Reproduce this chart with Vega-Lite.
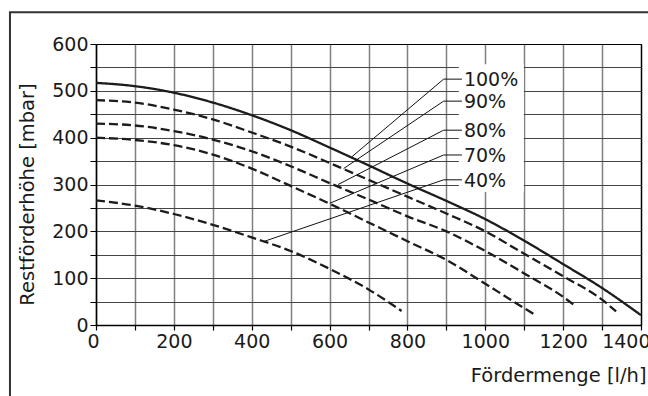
{
  "$schema": "https://vega.github.io/schema/vega-lite/v6.json",
  "width": 545,
  "height": 281,
  "autosize": {"type": "none"},
  "padding": {"left": 96, "top": 44, "right": 7, "bottom": 71},
  "background": "white",
  "config": {"view": {"stroke": "#000", "strokeWidth": 1}, "font": "DejaVu Sans"},
  "datasets": {
    "curves": [
      {"s": "100%", "q": 0, "p": 517}, {"s": "100%", "q": 100, "p": 510}, {"s": "100%", "q": 200, "p": 496}, {"s": "100%", "q": 300, "p": 475}, {"s": "100%", "q": 400, "p": 448}, {"s": "100%", "q": 500, "p": 416}, {"s": "100%", "q": 600, "p": 379}, {"s": "100%", "q": 700, "p": 341}, {"s": "100%", "q": 800, "p": 302}, {"s": "100%", "q": 900, "p": 265}, {"s": "100%", "q": 1000, "p": 226}, {"s": "100%", "q": 1100, "p": 180}, {"s": "100%", "q": 1200, "p": 130}, {"s": "100%", "q": 1300, "p": 79}, {"s": "100%", "q": 1400, "p": 21},
      {"s": "90%", "q": 0, "p": 480}, {"s": "90%", "q": 100, "p": 475}, {"s": "90%", "q": 200, "p": 460}, {"s": "90%", "q": 300, "p": 439}, {"s": "90%", "q": 400, "p": 411}, {"s": "90%", "q": 500, "p": 381}, {"s": "90%", "q": 600, "p": 346}, {"s": "90%", "q": 700, "p": 310}, {"s": "90%", "q": 800, "p": 274}, {"s": "90%", "q": 900, "p": 238}, {"s": "90%", "q": 1000, "p": 200}, {"s": "90%", "q": 1100, "p": 152}, {"s": "90%", "q": 1200, "p": 104}, {"s": "90%", "q": 1300, "p": 54}, {"s": "90%", "q": 1336, "p": 29},
      {"s": "80%", "q": 0, "p": 430}, {"s": "80%", "q": 100, "p": 426}, {"s": "80%", "q": 200, "p": 414}, {"s": "80%", "q": 300, "p": 396}, {"s": "80%", "q": 400, "p": 371}, {"s": "80%", "q": 500, "p": 339}, {"s": "80%", "q": 600, "p": 303}, {"s": "80%", "q": 700, "p": 268}, {"s": "80%", "q": 800, "p": 232}, {"s": "80%", "q": 900, "p": 200}, {"s": "80%", "q": 1000, "p": 158}, {"s": "80%", "q": 1100, "p": 110}, {"s": "80%", "q": 1200, "p": 60}, {"s": "80%", "q": 1232, "p": 40},
      {"s": "70%", "q": 0, "p": 400}, {"s": "70%", "q": 100, "p": 395}, {"s": "70%", "q": 200, "p": 384}, {"s": "70%", "q": 300, "p": 364}, {"s": "70%", "q": 400, "p": 334}, {"s": "70%", "q": 500, "p": 297}, {"s": "70%", "q": 600, "p": 259}, {"s": "70%", "q": 700, "p": 219}, {"s": "70%", "q": 800, "p": 179}, {"s": "70%", "q": 900, "p": 139}, {"s": "70%", "q": 1000, "p": 88}, {"s": "70%", "q": 1100, "p": 36}, {"s": "70%", "q": 1132, "p": 20},
      {"s": "40%", "q": 0, "p": 266}, {"s": "40%", "q": 100, "p": 255}, {"s": "40%", "q": 200, "p": 237}, {"s": "40%", "q": 300, "p": 214}, {"s": "40%", "q": 400, "p": 187}, {"s": "40%", "q": 500, "p": 158}, {"s": "40%", "q": 600, "p": 120}, {"s": "40%", "q": 700, "p": 76}, {"s": "40%", "q": 785, "p": 30}
    ],
    "leaders": [
      {"s": "100%", "o": 1, "q": 657, "p": 359}, {"s": "100%", "o": 2, "q": 893, "p": 525}, {"s": "100%", "o": 3, "q": 940, "p": 525},
      {"s": "90%", "o": 1, "q": 636, "p": 334}, {"s": "90%", "o": 2, "q": 893, "p": 478}, {"s": "90%", "o": 3, "q": 940, "p": 478},
      {"s": "80%", "o": 1, "q": 622, "p": 300}, {"s": "80%", "o": 2, "q": 893, "p": 416}, {"s": "80%", "o": 3, "q": 940, "p": 416},
      {"s": "70%", "o": 1, "q": 601, "p": 260}, {"s": "70%", "o": 2, "q": 893, "p": 363}, {"s": "70%", "o": 3, "q": 940, "p": 363},
      {"s": "40%", "o": 1, "q": 430, "p": 178}, {"s": "40%", "o": 2, "q": 893, "p": 310}, {"s": "40%", "o": 3, "q": 940, "p": 310}
    ],
    "labels": [
      {"s": "100%", "q": 945, "p": 525},
      {"s": "90%", "q": 945, "p": 478},
      {"s": "80%", "q": 945, "p": 416},
      {"s": "70%", "q": 945, "p": 363},
      {"s": "40%", "q": 945, "p": 310}
    ]
  },
  "layer": [
    {
      "data": {"values": [{}]},
      "mark": {"type": "rect", "fill": null, "stroke": "#333", "strokeWidth": 2, "clip": false},
      "encoding": {
        "x": {"datum": -221, "type": "quantitative", "scale": {"domain": [0, 1400], "nice": false}},
        "x2": {"datum": 2000},
        "y": {"datum": 668, "type": "quantitative", "scale": {"domain": [0, 600], "nice": false}},
        "y2": {"datum": -400}
      }
    },
    {
      "data": {"values": [{}]},
      "mark": {"type": "rect", "fill": "white", "stroke": null},
      "encoding": {
        "x": {"datum": 932, "type": "quantitative"},
        "x2": {"datum": 1099},
        "y": {"datum": 284, "type": "quantitative"},
        "y2": {"datum": 557}
      }
    },
    {
      "data": {"name": "curves"},
      "mark": {"type": "line", "interpolate": "monotone", "strokeWidth": 2.3, "color": "#1c1c1c"},
      "encoding": {
        "x": {
          "field": "q", "type": "quantitative",
          "scale": {"domain": [0, 1400], "nice": false},
          "axis": {
            "values": [0, 100, 200, 300, 400, 500, 600, 700, 800, 900, 1000, 1100, 1200, 1300, 1400],
            "tickCount": 30,
            "labelExpr": "datum.value % 200 === 0 ? datum.label : ''",
            "format": "d",
            "grid": true,
            "gridColor": {"condition": {"test": "datum.value === 1400", "value": "#000"}, "value": "#808080"},
            "gridWidth": 1.5,
            "domainColor": "#000", "domainWidth": 1.5,
            "tickColor": "#000", "tickSize": 5, "tickWidth": 1.2,
            "labelFontSize": 19, "labelColor": "#1a1a1a", "labelPadding": 2, "labelFlush": true, "labelFlushOffset": 9, "labelOverlap": false,
            "title": "Fördermenge [l/h]", "titleFontSize": 19.5, "titleFontWeight": "normal", "titleColor": "#1a1a1a",
            "titleX": 550, "titleY": 56, "titleAlign": "right", "titleBaseline": "alphabetic"
          }
        },
        "y": {
          "field": "p", "type": "quantitative",
          "scale": {"domain": [0, 600], "nice": false},
          "axis": {
            "values": [0, 50, 100, 150, 200, 250, 300, 350, 400, 450, 500, 550, 600],
            "tickCount": 30,
            "labelExpr": "datum.value % 100 === 0 ? datum.label : ''",
            "format": "d",
            "grid": true,
            "gridColor": {"condition": {"test": "datum.value === 600", "value": "#000"}, "value": "#444"},
            "gridWidth": 1,
            "domainColor": "#000", "domainWidth": 1.5,
            "tickColor": "#000", "tickSize": 6, "tickWidth": 1,
            "labelFontSize": 19, "labelColor": "#1a1a1a", "labelPadding": 2, "labelOverlap": false,
            "title": "Restförderhöhe [mbar]", "titleFontSize": 19.5, "titleFontWeight": "normal", "titleColor": "#1a1a1a",
            "titleX": -69, "titleY": 150, "titleAngle": -90, "titleAlign": "center", "titleBaseline": "middle"
          }
        },
        "detail": {"field": "s"},
        "strokeDash": {
          "field": "s", "type": "nominal",
          "scale": {"domain": ["100%", "90%", "80%", "70%", "40%"], "range": [[1, 0], [9, 4], [9, 4], [9, 4], [9, 4]]},
          "legend": null
        }
      }
    },
    {
      "data": {"name": "leaders"},
      "mark": {"type": "line", "strokeWidth": 1, "color": "#111"},
      "encoding": {
        "x": {"field": "q", "type": "quantitative"},
        "y": {"field": "p", "type": "quantitative"},
        "detail": {"field": "s"},
        "order": {"field": "o"}
      }
    },
    {
      "data": {"name": "labels"},
      "mark": {"type": "text", "align": "left", "baseline": "middle", "fontSize": 19, "color": "#1a1a1a", "dy": 1},
      "encoding": {
        "x": {"field": "q", "type": "quantitative"},
        "y": {"field": "p", "type": "quantitative"},
        "text": {"field": "s"}
      }
    }
  ]
}
